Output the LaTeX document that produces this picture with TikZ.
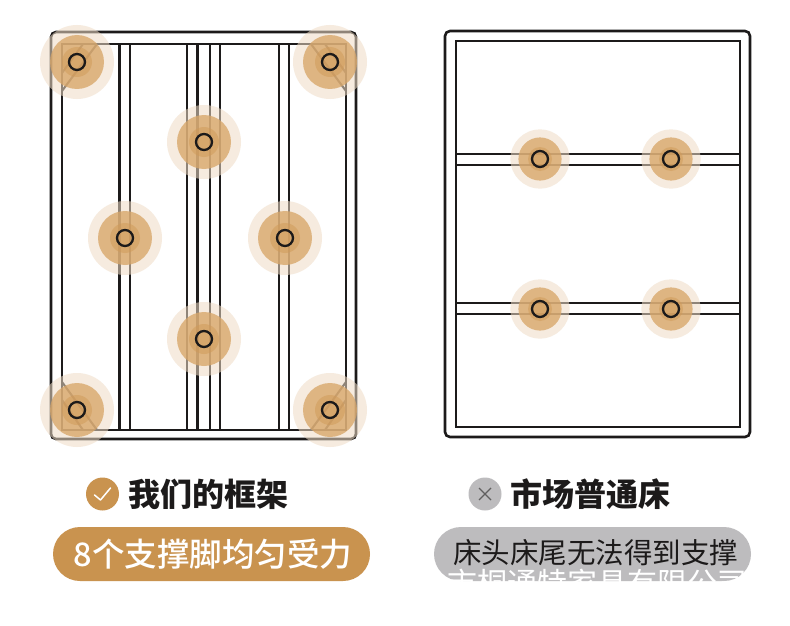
\documentclass[tikz,border=0pt]{standalone}
\usepackage{fontspec}
\newfontfamily\cjk{Noto Sans CJK SC}
\newfontfamily\cjkm{Noto Sans CJK SC Medium}
\definecolor{ringA}{HTML}{EFDCC6}
\definecolor{ringB}{HTML}{D8A669}
\definecolor{ringC}{HTML}{D09A58}
\definecolor{gold}{HTML}{C9934F}
\definecolor{pillgrey}{HTML}{BDBCBE}
\definecolor{ink}{HTML}{1C1A1A}
\tikzset{
  x=1pt,y=-1pt,
  frameline/.style={draw=ink,line width=2.6pt},
  barline/.style={draw=ink,line width=2.1pt},
  title/.style={font=\cjk\bfseries\fontsize{32}{32}\selectfont,text=ink,inner sep=0pt,anchor=west},
  pilltext/.style={font=\cjkm\fontsize{32.5}{32.5}\selectfont,inner sep=0pt},
}
\newcommand{\spot}[5]{% name x y scale inner
  \begin{scope}[shift={(#2,#3)}]
    \fill[ringA,opacity=.55] (0,0) circle[radius=37*#4];
    \fill[ringB,opacity=.78] (0,0) circle[radius=27*#4];
    \fill[ringC,opacity=.5] (0,0) circle[radius=#5];
    \node[circle,draw=ink,line width=2.3pt,minimum size=16pt,inner sep=0pt] (#1) at (0,0) {};
  \end{scope}}
\begin{document}
\begin{tikzpicture}
\useasboundingbox (0,0) rectangle (790,626);
\fill[white] (0,0) rectangle (790,626);
% left frame
\draw[frameline,rounded corners=5pt] (51,32) rectangle (356,439);
\draw[frameline] (62,44) rectangle (346,430);
\foreach \x in {119.5,130,187,197.5,210,220,279,289}
  \draw[barline] (\x,44) -- (\x,430);
% gussets
\draw[barline] (62,91) -- (97,44) (62,73) -- (83,44);
\draw[barline] (346,91) -- (311,44) (346,73) -- (325,44);
\draw[barline] (62,382) -- (97,430) (62,400) -- (83,430);
\draw[barline] (346,382) -- (311,430) (346,400) -- (325,430);
% right frame
\draw[frameline,rounded corners=5pt] (445,31) rectangle (750,437);
\draw[frameline] (456,41) rectangle (740,427);
\foreach \y in {154,165,303,314}
  \draw[barline] (456,\y) -- (740,\y);
% spots
\spot{a1}{77}{62}{1}{15}
\spot{a2}{330}{62}{1}{15}
\spot{a3}{204}{142}{1}{15}
\spot{a4}{125}{238}{1}{15}
\spot{a5}{285}{238}{1}{15}
\spot{a6}{204}{339}{1}{15}
\spot{a7}{77}{410}{1}{15}
\spot{a8}{330}{410}{1}{15}
\spot{b1}{540}{159}{.8}{12}
\spot{b2}{671}{159}{.8}{12}
\spot{b3}{540}{309}{.8}{12}
\spot{b4}{671}{309}{.8}{12}
% left caption
\node[circle,fill=gold,minimum size=33pt,inner sep=0pt] (okmark) at (102.5,494) {};
\draw[white,line width=1.5pt,line cap=round,line join=round] ([shift={(-8,1)}]okmark.center) -- ([shift={(-2,6)}]okmark.center) -- ([shift={(8,-6)}]okmark.center);
\node[title] (lefttitle) at (128,494) {我们的框架};
\node[fill=gold,rounded corners=27pt,minimum width=317pt,minimum height=54pt,inner sep=0pt] (leftpill) at (211.5,554) {};
\node[pilltext,text=white] (lefttext) at (213,554) {8个支撑脚均匀受力};
% right caption
\node[circle,fill=pillgrey,minimum size=33pt,inner sep=0pt] (nomark) at (485,494) {};
\draw[ink!70,line width=1.1pt] ([shift={(-6,-6)}]nomark.center) -- ([shift={(6,6)}]nomark.center) ([shift={(-6,6)}]nomark.center) -- ([shift={(6,-6)}]nomark.center);
\node[title] (righttitle) at (510,494) {市场普通床};
\begin{scope}
  \path[clip,rounded corners=27pt] (434,527) rectangle (751,581);
  \fill[pillgrey] (425,520) rectangle (760,590);
  \node[font=\cjk\fontsize{30}{30}\selectfont,text=white,inner sep=0pt] (mark) at (597.5,583) {市桐通特家具有限公司};
\end{scope}
\node[font=\cjk\fontsize{28.5}{28.5}\selectfont,text=ink,inner sep=0pt] (righttext) at (595.5,553) {床头床尾无法得到支撑};
\end{tikzpicture}
\end{document}
